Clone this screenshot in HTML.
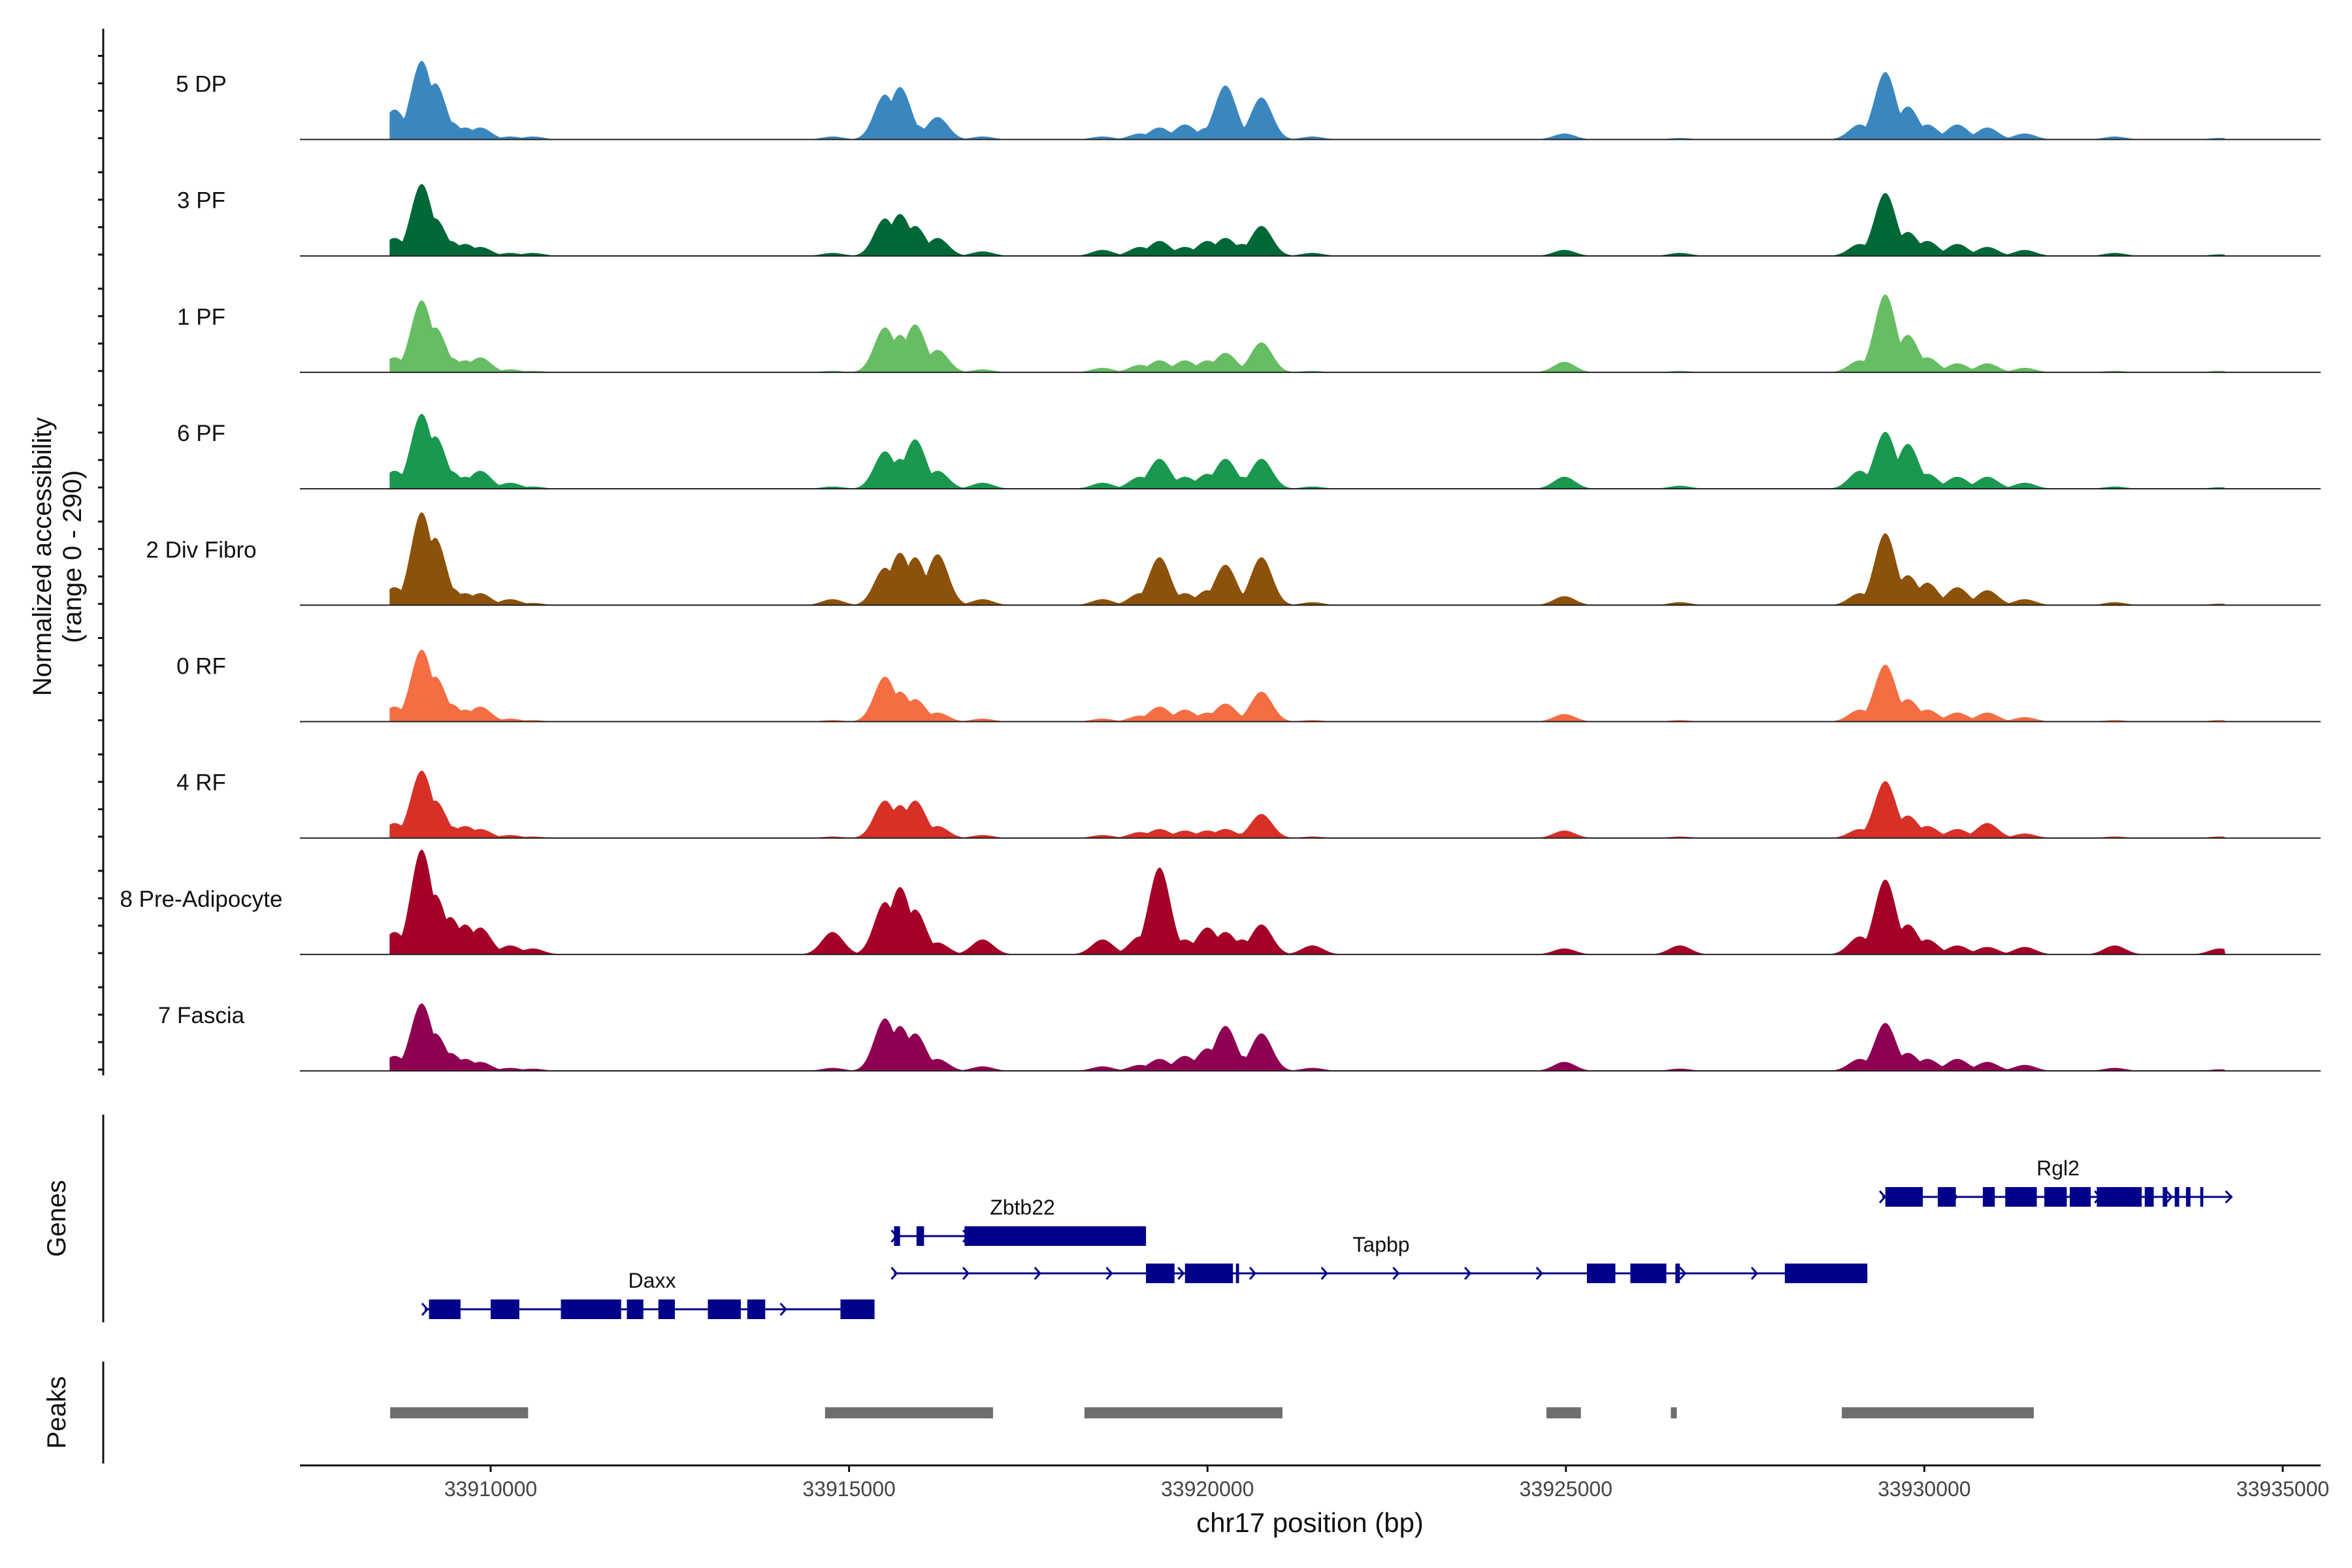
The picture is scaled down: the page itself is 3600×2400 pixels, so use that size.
<!DOCTYPE html>
<html><head><meta charset="utf-8">
<style>
html,body{margin:0;padding:0;background:#fff;}
svg{display:block;font-family:"Liberation Sans",Arial,sans-serif;}
</style></head>
<body>
<svg id="chart" width="3600" height="2400" viewBox="0 0 3600 2400" xmlns="http://www.w3.org/2000/svg">
<g id="tracks"></g>
<g id="genes"></g>
<g id="peaks"></g>
<g id="axes"></g>
</svg>
<script>
// ---- data ----
const trackNames = ["5 DP","3 PF","1 PF","6 PF","2 Div Fibro","0 RF","4 RF","8 Pre-Adipocyte","7 Fascia"];
const trackColors = ["#3a87c0","#006837","#66bd63","#1a9850","#8c510a","#f46d43","#d73027","#a50026","#8e0152"];
const peakPositions = [33908661,33908808,33909038,33909226,33909435,33909644,33909854,33910272,33910586,33914770,33915502,33915711,33915921,33916234,33916862,33918536,33919059,33919331,33919686,33920000,33920251,33920481,33920753,33921464,33924979,33926590,33929100,33929456,33929770,33930042,33930460,33930879,33931402,33932657,33934121];
const dp5  = [80,20,210,150,48,32,32,8,8,8,120,140,40,60,8,8,16,32,40,32,144,20,112,8,16,4,40,180,88,40,40,32,16,8,4];
const pf3  = [48,20,192,100,40,32,24,8,8,8,100,112,80,48,12,16,24,40,24,40,48,32,80,8,16,8,32,168,64,40,32,24,16,8,4];
const pf1  = [40,12,192,120,40,32,40,8,4,4,120,100,128,60,8,12,20,32,32,32,52,16,80,4,28,4,32,208,100,40,24,24,12,4,4];
const pf6  = [48,16,200,140,48,32,48,16,6,6,100,80,132,48,16,16,32,80,32,40,80,32,80,6,32,8,48,152,120,40,32,32,16,6,4];
const div2 = [48,16,248,180,48,32,32,16,6,16,100,140,128,136,16,16,32,128,32,40,108,20,128,8,24,8,32,192,80,60,48,40,16,8,4];
const rf0  = [40,12,192,120,48,32,40,8,4,4,120,80,60,24,8,8,16,40,32,24,48,16,80,4,20,4,32,152,60,32,24,24,12,4,4];
const rf4  = [40,12,180,100,32,32,24,8,4,4,100,88,100,32,8,8,16,24,20,20,24,12,64,4,20,4,24,152,60,32,24,40,12,4,4];
const pre8 = [60,20,280,160,100,80,72,24,16,60,140,180,120,32,40,40,48,232,40,72,60,40,80,24,16,24,48,200,80,40,24,20,20,24,16];
const fas7 = [40,12,180,100,48,32,24,8,6,8,140,120,100,32,12,12,16,32,40,60,120,40,100,8,24,6,32,128,48,32,32,24,16,8,4];
const trackValues = [dp5,pf3,pf1,pf6,div2,rf0,rf4,pre8,fas7];
const xTicks = [33910000,33915000,33920000,33925000,33930000,33935000];
const xTickLabels = ["33910000","33915000","33920000","33925000","33930000","33935000"];
const peakStarts = [33908598,33914665,33918284,33924728,33926464,33928849];
const peakEnds   = [33910523,33917008,33921046,33925209,33926547,33931527];
const geneNames = ["Daxx","Zbtb22","Tapbp","Rgl2"];
const geneStarts = [33909080,33915627,33915627,33929414];
const geneEnds   = [33915355,33919142,33929205,33934267];
const geneExons = [
 [[33909140,33909580],[33910000,33910400],[33910980,33911820],[33911900,33912130],[33912340,33912570],[33913030,33913490],[33913580,33913830],[33914880,33915355]],
 [[33915627,33915711],[33915941,33916046],[33916611,33919142]],
 [[33919142,33919540],[33919686,33920355],[33920397,33920440],[33925293,33925690],[33925899,33926401],[33926527,33926590],[33928054,33929205]],
 [[33929456,33929979],[33930188,33930439],[33930816,33930983],[33931129,33931569],[33931674,33931987],[33932029,33932322],[33932406,33933033],[33933075,33933200],[33933326,33933389],[33933493,33933556],[33933650,33933713],[33933849,33933891]]
];
// ---- scales ----
const NS="http://www.w3.org/2000/svg";
const X0=751, PXBP=2743/25000;
function xs(bp){return X0+(bp-33910000)*PXBP;}
const Y_MAX=300, TRACK_H=172, BASE0=213.5, STEP=178.2;
function ys(i,v){return BASE0+i*STEP - v/Y_MAX*TRACK_H;}
function mk(tag,attrs,parent){const e=document.createElementNS(NS,tag);for(const k in attrs)e.setAttribute(k,attrs[k]);parent.appendChild(e);return e;}
const gT=document.getElementById('tracks'), gG=document.getElementById('genes'), gP=document.getElementById('peaks'), gA=document.getElementById('axes');
const SIG=150, START=33908590, END=33934200;
// ---- coverage tracks ----
trackNames.forEach((name,i)=>{
  const vals=trackValues[i];
  let d="M"+xs(START).toFixed(1)+","+ys(i,0).toFixed(1);
  for(let bp=START;bp<=END;bp+=18){
    let v=1.5;
    for(let k=0;k<peakPositions.length;k++){
      const dd=(bp-peakPositions[k])/SIG; if(Math.abs(dd)>5)continue;
      const g=vals[k]*Math.exp(-0.5*dd*dd); if(g>v)v=g;
    }
    d+="L"+xs(bp).toFixed(1)+","+ys(i,v).toFixed(1);
  }
  d+="L"+xs(END).toFixed(1)+","+ys(i,0).toFixed(1)+"Z";
  const p=mk('path',{d:d,fill:trackColors[i]},gT);
  
  
  const bl=mk('line',{x1:459,x2:3552,y1:ys(i,0),y2:ys(i,0),stroke:'#222','stroke-width':2},gT);
  
  
  const t=mk('text',{x:308,y:ys(i,0)-73,'font-size':35,'text-anchor':'middle',fill:'#111'},gT);
  t.textContent=name;
  
  
});
// ---- genes ----
const geneY=[2004,1892,1949,1832];
geneNames.forEach((g,i)=>{
  const y=geneY[i];
  const ln=mk('line',{x1:xs(geneStarts[i]),x2:xs(geneEnds[i]),y1:y,y2:y,stroke:'#00008b','stroke-width':3},gG);
  
  
  for(let bp=geneStarts[i];bp<=geneEnds[i];bp+=1000){
    const cx=xs(bp);
    const c=mk('path',{d:`M${cx-4},${y-9}L${cx+4},${y}L${cx-4},${y+9}`,stroke:'#00008b','stroke-width':3,fill:'none'},gG);
    
    
  }
  const endx=xs(geneEnds[i]);
  if(i===3){const a=mk('path',{d:`M${endx-7},${y-9}L${endx+2},${y}L${endx-7},${y+9}`,stroke:'#00008b','stroke-width':3,fill:'none'},gG);
    }
  geneExons[i].forEach(e=>{
    const r=mk('rect',{x:xs(e[0]),y:y-15,width:Math.max(4,xs(e[1])-xs(e[0])),height:30,fill:'#00008b'},gG);
    
    
  });
  const midX=[998,1565,2114,3150][i];
  const t=mk('text',{x:midX,y:y-33,'font-size':32,'text-anchor':'middle',fill:'#111'},gG);
  t.textContent=g;
  
  
});
// ---- peaks ----
peakStarts.forEach((s,i)=>{
  const r=mk('rect',{x:xs(s),y:2154,width:xs(peakEnds[i])-xs(s),height:17,fill:'#6e6e6e'},gP);
  
  
});
// ---- axes ----
function axLine(x1,y1,x2,y2,name){const l=mk('line',{x1,y1,x2,y2,stroke:'#111','stroke-width':3},gA);return l;}
axLine(158,44,158,1646,'y-axis-line');
for(let i=0;i<9;i++){for(let k=0;k<4;k++){const y=BASE0+i*STEP-k*42-2; axLine(150,y,158,y,'y-tick');}}
axLine(158,1706,158,2024,'genes-axis-line');
axLine(158,2084,158,2240,'peaks-axis-line');
axLine(459,2243,3552,2243,'x-axis-line');
xTicks.forEach((v,i)=>{
  const x=xs(v); axLine(x,2243,x,2253,'x-tick');
  const t=mk('text',{x:x,y:2290,'font-size':32,'text-anchor':'middle',fill:'#444'},gA);
  t.textContent=xTickLabels[i];
  
  
});
function rot(txt,x,y,size,name){const t=mk('text',{x:0,y:0,'font-size':size,'text-anchor':'middle',fill:'#111',transform:`translate(${x},${y}) rotate(-90)`},gA);t.textContent=txt;}
rot("Normalized accessibility",78,852,40,'y-axis-title');
rot("(range 0 - 290)",124,852,40,'y-axis-subtitle');
rot("Genes",100,1865,40,'genes-axis-title');
rot("Peaks",100,2162,40,'peaks-axis-title');
const xt=mk('text',{x:2005,y:2345,'font-size':42,'text-anchor':'middle',fill:'#111'},gA);
xt.textContent="chr17 position (bp)";


</script>
</body></html>
